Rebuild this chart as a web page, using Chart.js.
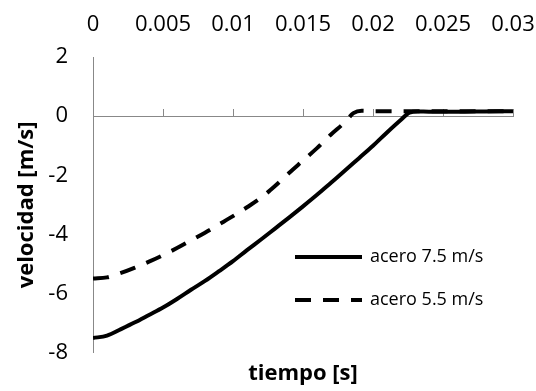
<!DOCTYPE html>
<html>
<head>
<meta charset="utf-8">
<script src="https://cdn.jsdelivr.net/npm/chart.js@4.4.1/dist/chart.umd.min.js"></script>
<style>
  html, body { margin: 0; padding: 0; background: #fff; }
</style>
</head>
<body>
<canvas id="chart" width="536" height="391"></canvas>
<script>
// tiempo [s], velocidad [m/s]
var tiempo75 = [0, 0.001, 0.002, 0.003, 0.004, 0.005, 0.006, 0.007, 0.008, 0.009, 0.010,
    0.011, 0.012, 0.013, 0.014, 0.015, 0.016, 0.017, 0.018, 0.019, 0.020, 0.021, 0.022,
    0.0226, 0.0232, 0.024, 0.026, 0.028, 0.030];
var acero75 = [-7.5, -7.42, -7.2, -6.97, -6.72, -6.47, -6.18, -5.87, -5.57, -5.24, -4.9,
    -4.53, -4.17, -3.8, -3.43, -3.05, -2.66, -2.25, -1.84, -1.42, -1.0, -0.55, -0.12,
    0.12, 0.16, 0.15, 0.15, 0.16, 0.17];

var tiempo55 = [0, 0.001, 0.002, 0.003, 0.004, 0.005, 0.006, 0.007, 0.008, 0.009, 0.010,
    0.011, 0.012, 0.013, 0.014, 0.015, 0.016, 0.017, 0.018, 0.0186, 0.0192, 0.020, 0.022,
    0.024, 0.026, 0.028, 0.030];
var acero55 = [-5.49, -5.45, -5.3, -5.12, -4.92, -4.7, -4.46, -4.2, -3.94, -3.66, -3.38,
    -3.08, -2.76, -2.36, -1.92, -1.5, -1.08, -0.62, -0.2, 0.1, 0.18, 0.17, 0.17,
    0.17, 0.17, 0.17, 0.17];

var xTicks = ['0', '0.005', '0.01', '0.015', '0.02', '0.025', '0.03'];
var yTicks = ['-8', '-6', '-4', '-2', '0', '2'];

function pares(xs, ys) {
    return xs.map(function (x, i) { return { x: x, y: ys[i] }; });
}

var FONT = '"Open Sans", "Liberation Sans", sans-serif';

var leyenda = {
    id: 'leyenda',
    afterDraw: function (chart) {
        var ctx = chart.ctx;
        var filas = [257, 300];
        ctx.save();
        chart.data.datasets.forEach(function (ds, i) {
            var y = filas[i];
            ctx.beginPath();
            ctx.lineWidth = ds.borderWidth;
            ctx.strokeStyle = ds.borderColor;
            ctx.setLineDash(ds.borderDash || []);
            ctx.moveTo(295, y);
            ctx.lineTo(362, y);
            ctx.stroke();
            ctx.setLineDash([]);
            ctx.fillStyle = '#000';
            ctx.font = '18px ' + FONT;
            ctx.textAlign = 'left';
            ctx.textBaseline = 'middle';
            ctx.fillText(ds.label, 370, y);
        });
        ctx.restore();
    }
};

new Chart(document.getElementById('chart'), {
    type: 'line',
    data: {
        datasets: [{
            label: 'acero 7.5 m/s',
            data: pares(tiempo75, acero75),
            borderColor: '#000',
            borderWidth: 4,
            pointRadius: 0,
            cubicInterpolationMode: 'monotone',
            fill: false
        }, {
            label: 'acero 5.5 m/s',
            data: pares(tiempo55, acero55),
            borderColor: '#000',
            borderWidth: 4,
            borderDash: [16, 12],
            pointRadius: 0,
            cubicInterpolationMode: 'monotone',
            fill: false
        }]
    },
    options: {
        responsive: false,
        animation: false,
        layout: { padding: { left: 0, right: 23, top: 0, bottom: 0 } },
        plugins: { legend: { display: false }, tooltip: { enabled: false } },
        scales: {
            x: {
                type: 'linear',
                position: 'top',
                min: 0, max: 0.03,
                grid: { display: false, drawTicks: false },
                border: { display: false },
                ticks: {
                    stepSize: 0.005,
                    padding: 19,
                    maxRotation: 0,
                    color: '#000',
                    font: { family: FONT, size: 22 },
                    callback: function (v, i) { return xTicks[i]; }
                },
                afterFit: function (s) {
                    s.height = 57;
                    s.paddingLeft = 0;
                    s.paddingRight = 0;
                }
            },
            xz: {
                type: 'linear',
                position: { y: 0 },
                min: 0, max: 0.03,
                grid: { display: true, drawOnChartArea: false, drawTicks: true, tickLength: -8, color: '#888' },
                border: { display: true, color: '#888', width: 1 },
                ticks: { stepSize: 0.005, display: false }
            },
            xb: {
                type: 'linear',
                position: 'bottom',
                min: 0, max: 0.03,
                grid: { display: false, drawTicks: false },
                border: { display: false },
                ticks: { display: false },
                title: {
                    display: true,
                    text: 'tiempo [s]',
                    color: '#000',
                    padding: { top: 0, bottom: 2 },
                    font: { family: FONT, size: 22, weight: 'bold' }
                },
                afterFit: function (s) {
                    s.height = 36;
                    s.paddingLeft = 0;
                    s.paddingRight = 0;
                }
            },
            y: {
                type: 'linear',
                min: -8, max: 2,
                grid: { display: false, drawTicks: false },
                border: { display: true, color: '#888', width: 1 },
                ticks: {
                    stepSize: 2,
                    padding: 25,
                    color: '#000',
                    font: { family: FONT, size: 22 },
                    callback: function (v, i) { return yTicks[i]; }
                },
                title: {
                    display: true,
                    text: 'velocidad [m/s]',
                    color: '#000',
                    padding: { top: 14, bottom: 0 },
                    font: { family: FONT, size: 22, weight: 'bold' }
                },
                afterFit: function (s) { s.width = 93; }
            }
        }
    },
    plugins: [leyenda]
});
</script>
</body>
</html>
